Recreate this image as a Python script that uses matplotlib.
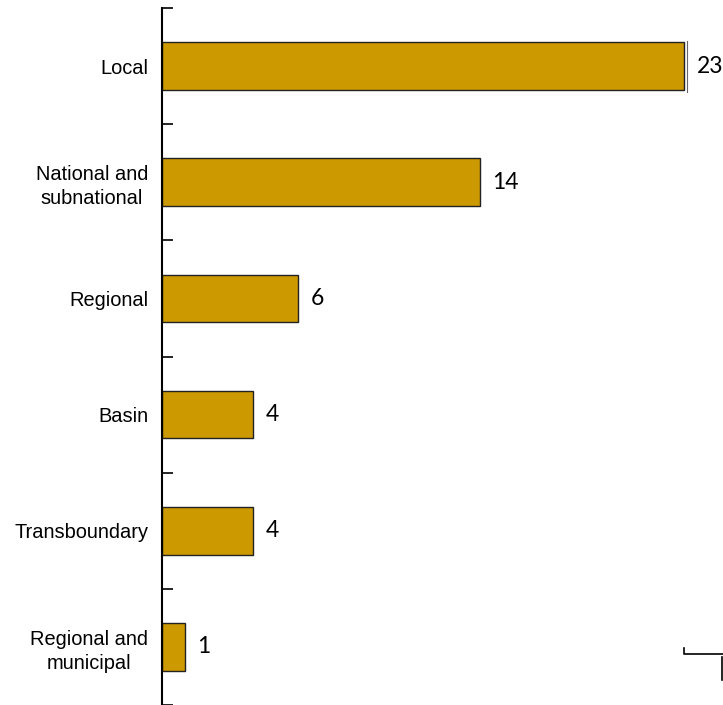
import numpy as np
import matplotlib.pyplot as plt
from matplotlib.lines import Line2D

# Count of initiatives by scale
categories = ["Local", "National and\nsubnational", "Regional", "Basin",
              "Transboundary", "Regional and\nmunicipal"]
counts = [23, 14, 6, 4, 4, 1]

bar_color = "#CC9900"

fig = plt.figure(figsize=(7.23, 7.05), dpi=100)
ax = fig.add_axes([162 / 723, 0.0, 1 - 162 / 723, 697 / 705])

y = np.arange(len(categories))
ax.barh(y, counts, height=0.41, color=bar_color, edgecolor="#222222", linewidth=1.0)

for yi, v in zip(y, counts):
    ax.text(v + 0.55, yi, str(v), va="center", ha="left", fontsize=16.5,
            family="Lato", color="black")

ax.set_ylim(len(categories) - 0.5, -0.5)
ax.set_xlim(0, 24.7)

ax.set_yticks(y)
ax.set_yticklabels(categories, family="Liberation Sans", fontsize=14.4,
                   ha="right", multialignment="center", linespacing=1.35)
ax.tick_params(axis="y", which="major", length=0, pad=10)
ax.set_yticks(np.arange(-0.5, len(categories), 1.0), minor=True)
ax.tick_params(axis="y", which="minor", direction="in", length=8, width=1.2,
               color="black")
ax.set_xticks([])

for side in ["top", "right", "bottom"]:
    ax.spines[side].set_visible(False)
ax.spines["left"].set_linewidth(1.5)

# thin gray rule just past the end of the longest bar
ax.plot([counts[0] + 0.1, counts[0] + 0.1], [-0.22, 0.22], color="#666666", lw=0.8)

# stray leftover axis pieces in the lower right corner
fig.add_artist(Line2D([684 / 723, 684 / 723, 1.0], [57 / 705, 51 / 705, 51 / 705],
                      transform=fig.transFigure, color="black", lw=1.2))
fig.add_artist(Line2D([721.5 / 723, 721.5 / 723], [48 / 705, 25 / 705],
                      transform=fig.transFigure, color="black", lw=1.2))

fig.savefig("out.png", dpi=100)
